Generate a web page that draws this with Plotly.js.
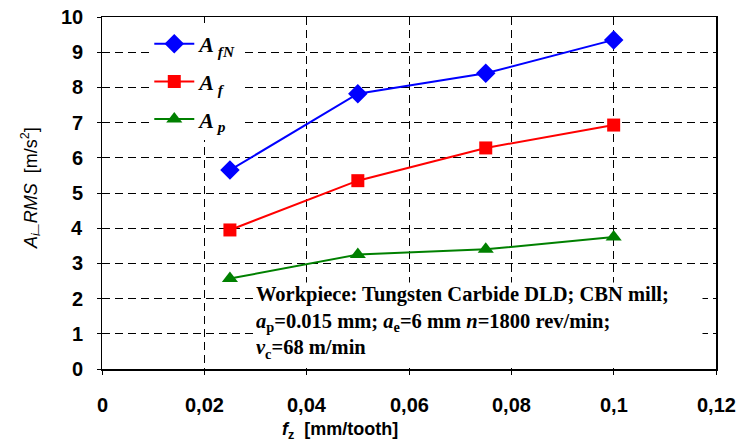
<!DOCTYPE html>
<html>
<head>
<meta charset="utf-8">
<script src="https://cdn.plot.ly/plotly-3.0.1.min.js"></script>
<style>
html,body{margin:0;padding:0;background:#fff;}
#chart{width:737px;height:443px;}
</style>
</head>
<body>
<div id="chart"></div>
<script>
// Data
const fz = [0.025, 0.05, 0.075, 0.1];
const A_fN = [5.65, 7.82, 8.4, 9.35];
const A_f = [3.95, 5.35, 6.28, 6.93];
const A_p = [2.57, 3.25, 3.4, 3.75];
const seriesNames = ['<b><i>A</i></b><sub><b><i> fN</i></b></sub>', '<b><i>A</i></b><sub><b><i> f</i></b></sub>', '<b><i>A</i></b><sub><b><i> p</i></b></sub>'];
const xTickVals = [0, 0.02, 0.04, 0.06, 0.08, 0.1, 0.12];
const xTickText = ['0', '0,02', '0,04', '0,06', '0,08', '0,1', '0,12'];
const yTickVals = [0, 1, 2, 3, 4, 5, 6, 7, 8, 9, 10];
const yTickText = ['0', '1', '2', '3', '4', '5', '6', '7', '8', '9', '10'];

const colors = ['#0000FF', '#FF0000', '#008000'];
const symbols = ['diamond', 'square', 'triangle-up'];
const sizes = [15, 13, 14];
const ys = [A_fN, A_f, A_p];

const traces = ys.map((y, i) => ({
  x: fz, y: y, type: 'scatter', mode: 'lines+markers',
  name: seriesNames[i], legendgroup: 'g' + i,
  line: {color: colors[i], width: 2},
  marker: {symbol: symbols[i], size: sizes[i], color: colors[i]}
}));

const tickFont = {family: 'Liberation Sans', size: 20, color: '#000', weight: 700};

// Tick labels drawn as text placed through the axes' own scales
const xTickLabels = xTickVals.map((v, i) => ({
  xref: 'x', yref: 'paper', x: v, y: (369 - 405) / 352,
  xanchor: 'center', yanchor: 'middle', showarrow: false,
  font: tickFont, text: '<b>' + xTickText[i] + '</b>'
}));
const yTickLabels = yTickVals.map((v, i) => ({
  xref: 'paper', yref: 'y', x: (85 - 102) / 614, y: v,
  xanchor: 'right', yanchor: 'middle', showarrow: false,
  font: tickFont, text: '<b>' + yTickText[i] + '</b>'
}));

const layout = {
  width: 737, height: 443,
  margin: {l: 102, r: 21, t: 17, b: 74},
  paper_bgcolor: '#fff', plot_bgcolor: '#fff',
  font: {family: 'Liberation Sans', size: 20, color: '#000'},
  showlegend: true,
  legend: {
    x: 0.077, y: 0.983, xanchor: 'left', yanchor: 'top',
    bgcolor: '#fff', borderwidth: 0,
    font: {family: 'Liberation Serif', size: 22, color: '#000'},
    tracegroupgap: 6, traceorder: 'grouped', itemwidth: 40
  },
  xaxis: {
    range: [0, 0.12], tickvals: xTickVals, showticklabels: false,
    showgrid: true, gridcolor: '#000', griddash: '8px,5px', gridwidth: 1,
    zeroline: false, showline: true, linecolor: '#000', linewidth: 1.5, mirror: true,
    ticks: 'outside', ticklen: 4, tickcolor: '#000'
  },
  yaxis: {
    range: [0, 10], tickvals: yTickVals, showticklabels: false,
    showgrid: true, gridcolor: '#000', griddash: '8px,5px', gridwidth: 1,
    zeroline: false, showline: true, linecolor: '#000', linewidth: 1.5, mirror: true,
    ticks: 'outside', ticklen: 4, tickcolor: '#000'
  },
  annotations: [
    {
      xref: 'paper', yref: 'paper', x: (255 - 102) / 614, y: (369 - 282) / 352,
      xanchor: 'left', yanchor: 'top', align: 'left', valign: 'top', showarrow: false,
      width: 446, height: 80, bgcolor: '#fff', borderpad: 0,
      font: {family: 'Liberation Serif', size: 20.5, color: '#000', weight: 700},
      text: 'Workpiece: Tungsten Carbide DLD; CBN mill;<br>' +
            '<i>a</i><sub>p</sub>=0.015 mm; <i>a</i><sub>e</sub>=6 mm <i>n</i>=1800 rev/min;<br>' +
            '<i>v</i><sub>c</sub>=68 m/min'
    },
    {
      xref: 'paper', yref: 'paper', x: (340 - 102) / 614, y: (369 - 430) / 352,
      xanchor: 'center', yanchor: 'middle', showarrow: false,
      font: {family: 'Liberation Sans', size: 18, color: '#000', weight: 700},
      text: '<i>f</i><sub>z</sub>  [mm/tooth]'
    },
    {
      xref: 'paper', yref: 'paper', x: (30 - 102) / 614, y: (369 - 188) / 352,
      xanchor: 'center', yanchor: 'middle', showarrow: false, textangle: -90,
      font: {family: 'Liberation Sans', size: 18, color: '#000', weight: 400},
      text: '<i>A<sub>i</sub>_RMS</i>  [m/s<sup>2</sup>]'
    }
  ].concat(xTickLabels, yTickLabels)
};

Plotly.newPlot('chart', traces, layout, {displayModeBar: false, staticPlot: true});
</script>
</body>
</html>
